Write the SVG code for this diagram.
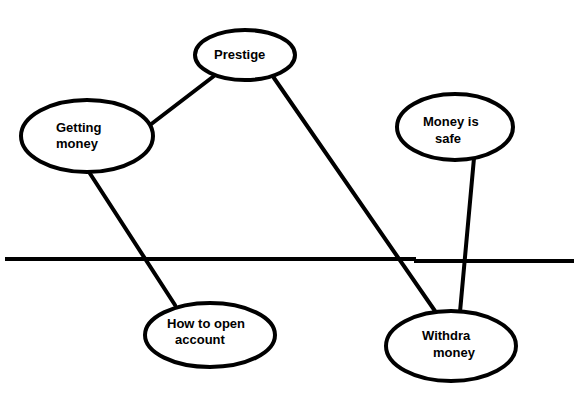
<svg xmlns="http://www.w3.org/2000/svg" width="574" height="407" viewBox="0 0 574 407">
<style>
.n{fill:#fff;stroke:#000;stroke-width:4}
.c{stroke:#000;stroke-width:4;fill:none;stroke-linecap:round}
.h{stroke:#000;stroke-width:4;fill:none;stroke-linecap:butt}
text{font-family:"Liberation Sans",Arial,sans-serif;font-weight:bold;font-size:13px;fill:#000}
</style>
<rect width="574" height="407" fill="#fff"/>
<g id="connectors">
<line class="h" x1="5" y1="259" x2="416" y2="259"/>
<line class="h" x1="414" y1="261" x2="574" y2="261"/>
<line class="c" x1="150" y1="125" x2="214" y2="76"/>
<line class="c" x1="274" y1="78" x2="435" y2="311"/>
<line class="c" x1="474" y1="158" x2="460" y2="312"/>
<line class="c" x1="89" y1="172" x2="175" y2="305"/>
</g>
<g id="prestige"><ellipse class="n" cx="245" cy="55" rx="50" ry="25"/><text x="214" y="59">Prestige</text></g>
<g id="getting-money"><ellipse class="n" cx="87" cy="136" rx="66" ry="36"/><text x="56" y="132">Getting</text><text x="56" y="148">money</text></g>
<g id="money-is-safe"><ellipse class="n" cx="455" cy="127" rx="58" ry="33"/><text x="423" y="126">Money is</text><text x="435" y="143">safe</text></g>
<g id="how-to-open"><ellipse class="n" cx="210" cy="335" rx="65" ry="32"/><text x="167" y="328">How to open</text><text x="175" y="344">account</text></g>
<g id="withdra"><ellipse class="n" cx="451" cy="346" rx="65" ry="35"/><text x="422" y="340">Withdra</text><text x="433" y="357">money</text></g>
</svg>
